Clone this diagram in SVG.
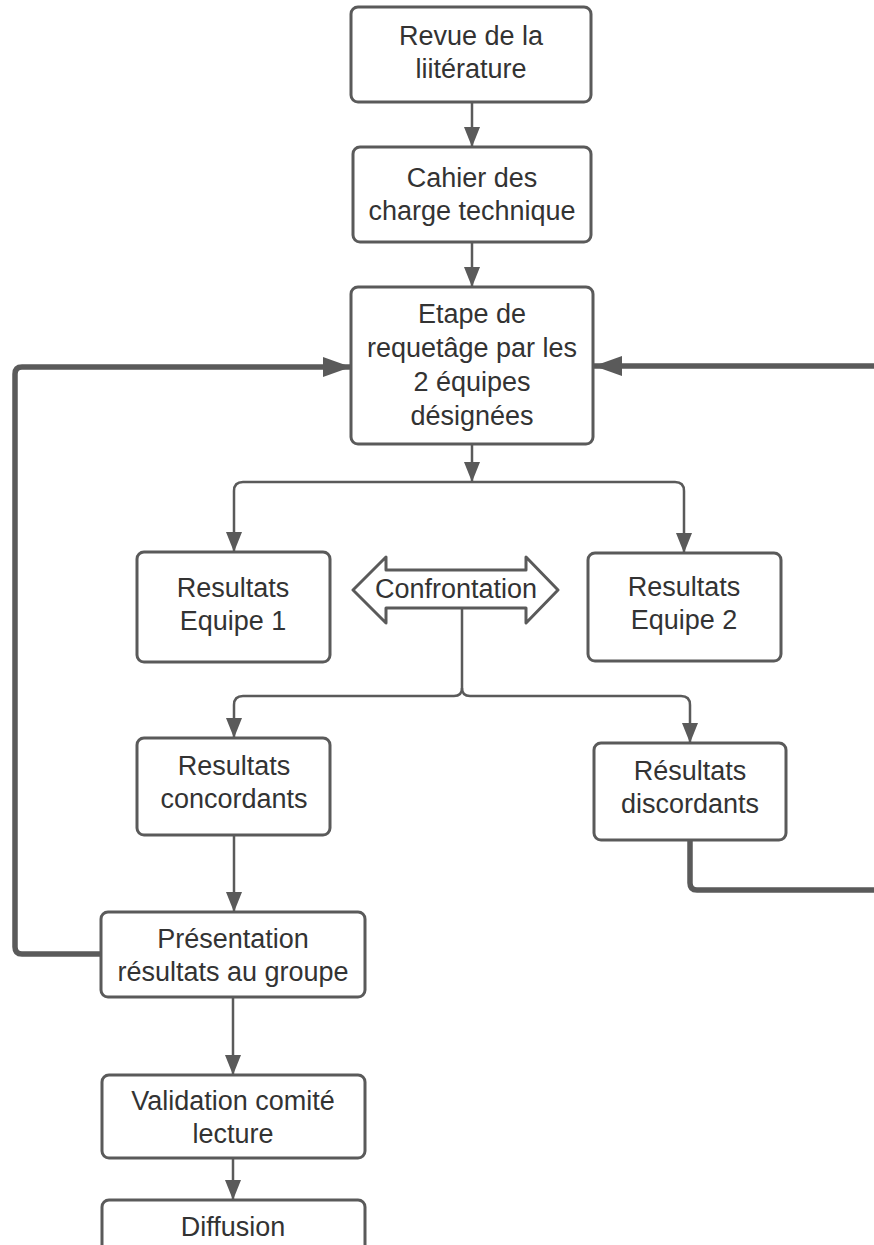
<svg xmlns="http://www.w3.org/2000/svg" width="874" height="1245" viewBox="0 0 874 1245">
<style>
.box{fill:#fff;stroke:#5a5a5a;stroke-width:3}
.t{font-family:"Liberation Sans",Arial,sans-serif;font-size:27px;fill:#333;text-anchor:middle}
.c{fill:none;stroke:#5a5a5a;stroke-width:2.5}
.k{fill:none;stroke:#5a5a5a;stroke-width:5.5}
</style>
<defs>
<marker id="a" markerUnits="userSpaceOnUse" markerWidth="20" markerHeight="16" refX="20" refY="8" orient="auto"><path d="M0,0 L20,8 L0,16 Z" fill="#5a5a5a"/></marker>
<marker id="b" markerUnits="userSpaceOnUse" markerWidth="28" markerHeight="20" refX="28" refY="10" orient="auto"><path d="M0,0 L28,10 L0,20 Z" fill="#5a5a5a"/></marker>
</defs>
<rect width="874" height="1245" fill="#fff"/>
<g id="connectors">
<path class="c" d="M472,102 V147" marker-end="url(#a)"/>
<path class="c" d="M472,242 V287" marker-end="url(#a)"/>
<path class="c" d="M472,444 V482" marker-end="url(#a)"/>
<path class="c" d="M472,482 H243 Q234,482 234,491 V552" marker-end="url(#a)"/>
<path class="c" d="M472,482 H675 Q684,482 684,491 V553" marker-end="url(#a)"/>
<path class="c" d="M462,608 V688 Q462,696 454,696 H243 Q234,696 234,705 V738" marker-end="url(#a)"/>
<path class="c" d="M462,688 Q462,696 470,696 H681 Q690,696 690,705 V743" marker-end="url(#a)"/>
<path class="c" d="M234,835 V912" marker-end="url(#a)"/>
<path class="c" d="M233,997 V1075" stroke-width="3" marker-end="url(#a)"/>
<path class="c" d="M233,1158 V1200" stroke-width="3" marker-end="url(#a)"/>
<path class="k" d="M101,954 H22 Q15,954 15,947 V374 Q15,367 22,367 H351" marker-end="url(#b)"/>
<path class="k" d="M690,840 V883 Q690,890 697,890 H882 V366 H594" marker-end="url(#b)"/>
</g>
<g id="n1"><rect class="box" x="351" y="7" width="240" height="95" rx="7"/><text class="t" x="471" y="45">Revue de la</text><text class="t" x="471" y="78">liitérature</text></g>
<g id="n2"><rect class="box" x="353" y="147" width="238" height="95" rx="7"/><text class="t" x="472" y="187">Cahier des</text><text class="t" x="472" y="220">charge technique</text></g>
<g id="n3"><rect class="box" x="351" y="287" width="242" height="157" rx="7"/><text class="t" x="472" y="323">Etape de</text><text class="t" x="472" y="357">requetâge par les</text><text class="t" x="472" y="391">2 équipes</text><text class="t" x="472" y="425">désignées</text></g>
<g id="n4"><rect class="box" x="137" y="552" width="193" height="110" rx="7"/><text class="t" x="233" y="597">Resultats</text><text class="t" x="233" y="630">Equipe 1</text></g>
<g id="n5"><path class="box" stroke-linejoin="round" d="M353,590 L386,557 V570 H526 V557 L558,590 L526,623 V608 H386 V623 Z"/><text class="t" x="456" y="598">Confrontation</text></g>
<g id="n6"><rect class="box" x="588" y="553" width="193" height="108" rx="7"/><text class="t" x="684" y="596">Resultats</text><text class="t" x="684" y="629">Equipe 2</text></g>
<g id="n7"><rect class="box" x="137" y="738" width="193" height="97" rx="7"/><text class="t" x="234" y="775">Resultats</text><text class="t" x="234" y="808">concordants</text></g>
<g id="n8"><rect class="box" x="594" y="743" width="192" height="97" rx="7"/><text class="t" x="690" y="780">Résultats</text><text class="t" x="690" y="813">discordants</text></g>
<g id="n9"><rect class="box" x="101" y="912" width="264" height="85" rx="7"/><text class="t" x="233" y="948">Présentation</text><text class="t" x="233" y="981">résultats au groupe</text></g>
<g id="n10"><rect class="box" x="102" y="1075" width="263" height="83" rx="7"/><text class="t" x="233" y="1110">Validation comité</text><text class="t" x="233" y="1143">lecture</text></g>
<g id="n11"><rect class="box" x="102" y="1200" width="263" height="70" rx="7"/><text class="t" x="233" y="1236">Diffusion</text></g>
</svg>
